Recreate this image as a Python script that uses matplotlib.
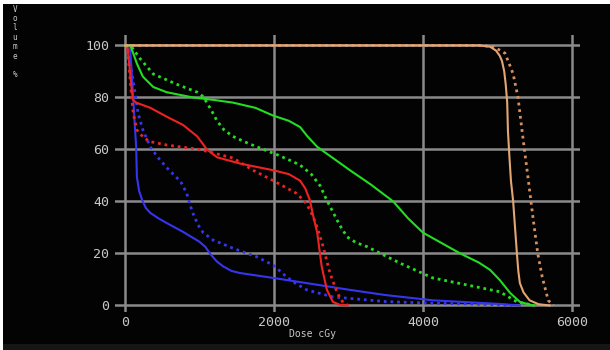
import matplotlib
matplotlib.use("Agg")
import matplotlib.pyplot as plt
from matplotlib.patches import Rectangle

# ---- data (dose in cGy, volume in %) ----
x_ticks = [0, 2000, 4000, 6000]
y_ticks = [0, 20, 40, 60, 80, 100]

orange_solid_dose = [0, 4760, 4900, 4980, 5030, 5060, 5090, 5110, 5130, 5140, 5160, 5180, 5210, 5235, 5260, 5280, 5300, 5350, 5430, 5550, 5700]
orange_solid_vol = [100, 100, 99.5, 98, 96, 94, 90, 85, 78, 67, 57, 48, 40, 30, 20, 13, 8.6, 5, 2, 0.5, 0]

orange_dot_dose = [0, 4760, 4950, 5100, 5170, 5210, 5275, 5330, 5410, 5475, 5540, 5600, 5680, 5750]
orange_dot_vol = [100, 100, 99.5, 97, 92, 89, 80, 67, 49, 34, 20, 11, 2, 0]

green_solid_dose = [0, 70, 110, 160, 240, 380, 560, 910, 1200, 1450, 1750, 1990, 2200, 2350, 2450, 2580, 2800, 3020, 3300, 3600, 3800, 4000, 4250, 4500, 4750, 4900, 5030, 5170, 5300, 5480]
green_solid_vol = [100, 100, 97, 93, 88, 84, 82, 80, 79, 78, 76, 73, 71, 68.6, 65, 61, 56.5, 52, 46.5, 40, 33.5, 28, 24, 20, 16.5, 13.7, 9.8, 4.8, 1.4, 0]

green_dot_dose = [0, 100, 200, 380, 700, 970, 1040, 1100, 1170, 1235, 1330, 1450, 1600, 1770, 2040, 2200, 2350, 2500, 2620, 2700, 2790, 2880, 2980, 3100, 3250, 3690, 4130, 4590, 5030, 5260, 5500]
green_dot_vol = [100, 99, 95, 89, 85, 82, 80.5, 78, 74.5, 71, 67.5, 65, 63, 61, 58, 56, 54, 50.5, 46, 41, 36, 31, 26.4, 24.2, 22.6, 16.3, 10.6, 7.9, 5.3, 1.4, 0]

red_solid_dose = [0, 30, 60, 90, 110, 150, 340, 560, 780, 970, 1100, 1235, 1540, 1990, 2200, 2350, 2420, 2480, 2530, 2580, 2640, 2710, 2790, 2880, 2980]
red_solid_vol = [100, 100, 92, 83, 79, 78, 76, 72.6, 69.4, 65, 60, 57, 54.6, 52, 50.5, 48, 45, 40.6, 34, 28, 15, 6, 1.4, 0.3, 0]

red_dot_dose = [0, 30, 60, 90, 110, 160, 250, 340, 560, 1000, 1450, 1720, 1990, 2310, 2440, 2520, 2580, 2660, 2750, 2850, 2930, 3000]
red_dot_vol = [100, 100, 90, 80, 74, 67.5, 64.5, 63, 61.7, 60, 56.7, 52, 48, 43, 39, 34.5, 30, 22.6, 12.5, 4.8, 1, 0]

blue_solid_dose = [0, 30, 70, 90, 110, 130, 150, 160, 190, 230, 280, 340, 450, 560, 780, 1000, 1080, 1140, 1230, 1320, 1430, 1540, 1990, 2440, 3020, 3500, 4130, 5030, 5300]
blue_solid_vol = [100, 100, 98, 90, 80, 70, 61, 49.4, 44, 40.6, 37.5, 35.6, 33.5, 31.7, 28.3, 24.5, 22.5, 20, 17, 15, 13.3, 12.5, 10.6, 8.6, 6, 4, 2, 0.6, 0]

blue_dot_dose = [0, 30, 70, 110, 175, 240, 340, 440, 560, 700, 760, 830, 870, 910, 980, 1050, 1180, 1450, 1770, 1990, 2170, 2300, 2440, 2790, 3500, 4130, 5000, 5200]
blue_dot_vol = [100, 100, 93, 86.7, 74, 67.5, 61, 57, 53, 49, 47, 43, 39, 35.6, 31, 28, 25.2, 22, 18.7, 15.5, 11, 8.3, 6, 3.3, 1.5, 0.9, 0.3, 0]

# ---- figure ----
fig = plt.figure(figsize=(6.1, 3.5), dpi=100, facecolor="#ffffff")
# black panel with thin white top/left edge and dark strip at bottom
fig.patches.append(Rectangle((3/610, 6/350), 1, (350 - 4 - 6)/350, transform=fig.transFigure,
                             facecolor="#030303", edgecolor="none", zorder=-10))
fig.patches.append(Rectangle((3/610, 0), 1, 6/350, transform=fig.transFigure,
                             facecolor="#161616", edgecolor="none", zorder=-10))

ax = fig.add_axes([115/610, 38/350, 465/610, 277/350])
ax.patch.set_alpha(0)
ax.set_xlim(-134, 6107)
ax.set_ylim(-2.5, 104)
for s in ax.spines.values():
    s.set_visible(False)

grid_c = "#8a8a8a"
for xv in x_ticks:
    ax.axvline(xv, color=grid_c, lw=1.8, zorder=1)
for yv in y_ticks:
    ax.axhline(yv, color=grid_c, lw=1.8, zorder=1)

ORANGE = "#e3a572"
GREEN = "#22dd22"
RED = "#ee2222"
BLUE = "#3535f0"
dot = (0, (1, 1.4))

ax.plot(blue_dot_dose, blue_dot_vol, color=BLUE, lw=2, ls=dot, zorder=3)
ax.plot(blue_solid_dose, blue_solid_vol, color=BLUE, lw=1.5, zorder=3)
ax.plot(red_dot_dose, red_dot_vol, color=RED, lw=2, ls=dot, zorder=4)
ax.plot(red_solid_dose, red_solid_vol, color=RED, lw=1.5, zorder=4)
ax.plot(green_dot_dose, green_dot_vol, color=GREEN, lw=2, ls=dot, zorder=5)
ax.plot(green_solid_dose, green_solid_vol, color=GREEN, lw=1.5, zorder=5)
ax.plot(orange_dot_dose, orange_dot_vol, color="#d49060", lw=2, ls=dot, zorder=6)
ax.plot(orange_solid_dose, orange_solid_vol, color=ORANGE, lw=1.5, zorder=6)

txt_c = "#c8c8c8"
ax.set_xticks(x_ticks)
ax.set_xticklabels([str(v) for v in x_ticks])
ax.set_yticks(y_ticks)
ax.set_yticklabels([str(v) for v in y_ticks])
ax.tick_params(length=0, colors=txt_c, labelsize=9.5)
ax.tick_params(axis="y", pad=4)
ax.tick_params(axis="x", pad=3)
for lab in ax.get_xticklabels() + ax.get_yticklabels():
    lab.set_family("DejaVu Sans Mono")

fig.text(313/610, 1 - 334/350, "Dose cGy", color=txt_c, fontsize=7,
         family="DejaVu Sans Mono", ha="center", va="center")
fig.text(15/610, 1 - 42/350, "V\no\nl\nu\nm\ne\n \n%", color=txt_c, fontsize=5.5,
         family="DejaVu Sans Mono", ha="center", va="center", linespacing=1.05)

fig.savefig("out.png", dpi=100, facecolor=fig.get_facecolor())
